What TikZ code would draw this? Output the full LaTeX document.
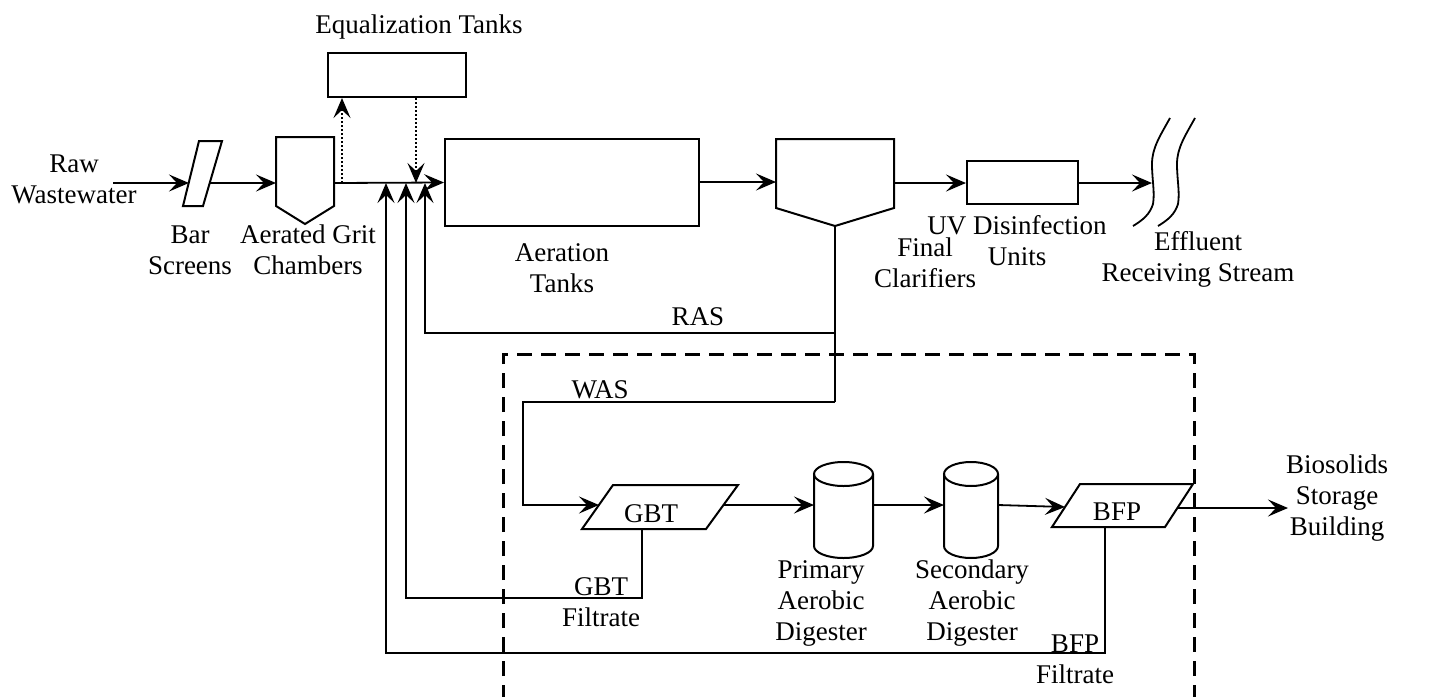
\documentclass[tikz,border=0pt]{standalone}
\usepackage{fontspec}
\setmainfont{Liberation Serif}
\usetikzlibrary{arrows.meta}
\begin{document}
\begin{tikzpicture}[x=1pt,y=-1pt,
  line width=1.8pt, line join=miter,
  lbl/.style={font=\fontsize{27}{31}\selectfont, align=center, inner sep=0pt},
  box/.style={draw, line width=2pt, inner sep=0pt},
  flow/.style={line width=1.8pt},
  arr/.style={line width=1.8pt, -{Stealth[length=20pt,width=17pt,inset=8pt]}},
  dotarr/.style={line width=1.6pt, dash pattern=on 1.6pt off 2.4pt, -{Stealth[length=20pt,width=17pt,inset=8pt]}},
  outl/.style={draw, line width=2pt}]
\useasboundingbox (0,0) rectangle (1432,696);

% ---------- boxes ----------
\node[box, minimum width=138pt, minimum height=44pt] (eq) at (397,75) {};
\node[box, minimum width=254pt, minimum height=87pt] (aer) at (572,182.5) {};
\node[box, minimum width=111pt, minimum height=43pt] (uv) at (1022.5,182.5) {};

% ---------- other shapes ----------
\draw[outl] (183,206) -- (203,206) -- (222,141) -- (199,141) -- cycle;
\coordinate (barin) at (189,183);
\coordinate (barout) at (210,183);

\draw[outl] (276,137) -- (334,137) -- (334,206) -- (305,224) -- (276,206) -- cycle;
\coordinate (gritin) at (276,183);
\coordinate (gritout) at (334,183);

\draw[outl] (776,139) -- (894,139) -- (894,208) -- (835,226) -- (776,208) -- cycle;
\coordinate (clin) at (776,182);
\coordinate (clout) at (894,183);
\coordinate (clbot) at (835,226);

% stream
\draw[line width=1.8pt] (1170,118) .. controls (1160,136) and (1152,148) .. (1152,164)
   .. controls (1152,180) and (1155,192) .. (1153,204)
   .. controls (1150,214) and (1143,220) .. (1133,226);
\draw[line width=1.8pt] (1195,118) .. controls (1185,136) and (1177,148) .. (1177,164)
   .. controls (1177,180) and (1180,192) .. (1178,204)
   .. controls (1175,214) and (1168,220) .. (1158,226);
\coordinate (stream) at (1152,183);

% GBT
\draw[outl] (582,529) -- (706,529) -- (738,485) -- (613,485) -- cycle;
\node[lbl] (gbt) at (651,514) {GBT};
\coordinate (gbtin) at (599,505);
\coordinate (gbtout) at (723,505);
\coordinate (gbtbot) at (642,529);

% BFP
\draw[outl] (1052,527) -- (1165,527) -- (1193,484) -- (1080,484) -- cycle;
\node[lbl] (bfp) at (1117,512) {BFP};
\coordinate (bfpin) at (1065,507);
\coordinate (bfpout) at (1177,508);
\coordinate (bfpbot) at (1105,527);

% digesters
\draw[outl] (843.5,474) ellipse [x radius=29.5pt, y radius=12pt];
\draw[outl] (814,474) -- (814,546) arc[start angle=180, end angle=360, x radius=29.5pt, y radius=12pt] -- (873,474);
\coordinate (d1in) at (814,505);
\coordinate (d1out) at (873,505);
\draw[outl] (971,474) ellipse [x radius=27pt, y radius=12pt];
\draw[outl] (944,474) -- (944,546) arc[start angle=180, end angle=360, x radius=27pt, y radius=12pt] -- (998,474);
\coordinate (d2in) at (944,505);
\coordinate (d2out) at (998,505);

% ---------- dashed boundary ----------
\draw[line width=3pt, dash pattern=on 15pt off 9pt] (503,700) -- (503,354) -- (1194,354) -- (1194,700);

% ---------- labels ----------
\node[lbl] (raw) at (74,179) {Raw\\Wastewater};
\node[lbl] (barl) at (190,250) {Bar\\Screens};
\node[lbl] (gritl) at (308,250) {Aerated Grit\\Chambers};
\node[lbl] (eql) at (419,27) {Equalization Tanks};
\node[lbl] (aerl) at (562,268) {Aeration\\Tanks};
\node[lbl] (cll) at (925,263) {Final\\Clarifiers};
\node[lbl] (uvl) at (1017,241) {UV Disinfection\\Units};
\node[lbl] (effl) at (1198,259) {Effluent\\Receiving Stream};
\node[lbl] (ras) at (698,317) {RAS};
\node[lbl] (was) at (600,390) {WAS};
\node[lbl] (gbtf) at (601,602) {GBT\\Filtrate};
\node[lbl] (d1l) at (821,603) {Primary\\Aerobic\\Digester};
\node[lbl] (d2l) at (972,603) {Secondary\\Aerobic\\Digester};
\node[lbl] (bfpf) at (1075,659) {BFP\\Filtrate};
\node[lbl] (bio) at (1337,498) {Biosolids\\Storage\\Building};

% ---------- connectors ----------
\coordinate (rawstart) at (113,183);
\draw[arr] (rawstart) -- (barin);
\draw[arr] (barout) -- (gritin);
\draw[arr] (gritout) -- (aer.west);
\coordinate (equp) at (342,183);
\draw[dotarr] (equp) -- (equp |- eq.south);
\coordinate (eqdn) at (416,183);
\draw[dotarr] (eqdn |- eq.south) -- (eqdn);
\draw[arr] (aer.east |- clin) -- (clin);
\draw[arr] (clout) -- (uv.west |- clout);
\draw[arr] (uv.east |- stream) -- (stream);

% RAS / WAS
\coordinate (rasj) at (835,333);
\coordinate (rasend) at (425,333);
\coordinate (wasj) at (835,402);
\coordinate (wasc) at (523,402);
\draw[flow] (clbot) -- (wasj);
\draw[arr] (rasj) -- (rasend) -- (425,183);
\draw[arr] (wasj) -- (wasc) -- (wasc |- gbtin) -- (gbtin);

% sludge line
\draw[arr] (gbtout) -- (d1in);
\draw[arr] (d1out) -- (d2in);
\draw[arr] (d2out) -- (bfpin);
\coordinate (bioin) at (1288,508);
\draw[arr] (bfpout) -- (bioin);

% filtrates
\coordinate (gbtfc) at (642,598);
\draw[arr] (gbtbot) -- (gbtfc) -- (406,598) -- (406,183);
\coordinate (bfpfc) at (1105,653);
\draw[arr] (bfpbot) -- (bfpfc) -- (386,653) -- (386,183);
\end{tikzpicture}
\end{document}
